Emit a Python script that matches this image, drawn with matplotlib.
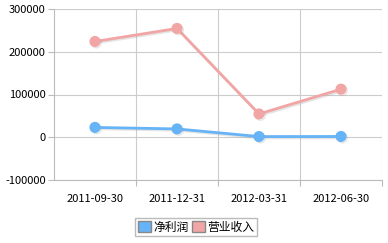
import matplotlib
matplotlib.use("Agg")
import matplotlib.pyplot as plt
import matplotlib.patheffects as pe
from matplotlib.patches import Patch

plt.rcParams['font.family'] = ['Noto Sans CJK SC', 'DejaVu Sans']

dates = ['2011-09-30', '2011-12-31', '2012-03-31', '2012-06-30']
net_profit = [23000, 19500, 1600, 1800]
revenue = [224000, 254500, 54500, 112500]
yticks = [-100000, 0, 100000, 200000, 300000]

blue = '#66b3f7'
pink = '#f2a5a5'

fig = plt.figure(figsize=(3.88, 2.43), dpi=100)
ax = fig.add_axes([54 / 388, 1 - 180 / 243, 328 / 388, 171 / 243])

x = range(len(dates))
shadow = [pe.SimpleLineShadow(offset=(1, -1), shadow_color='#999999', alpha=0.25), pe.Normal()]
ax.plot(x, revenue, color=pink, lw=2, marker='o', ms=7, path_effects=shadow, zorder=3)
ax.plot(x, net_profit, color=blue, lw=2, marker='o', ms=7, path_effects=shadow, zorder=4)

ax.set_xlim(-0.5, len(dates) - 0.5)
ax.set_ylim(-100000, 300000)
ax.set_yticks(yticks)
ax.set_yticklabels([str(v) for v in yticks], fontsize=8)
ax.set_xticks([i + 0.5 for i in range(len(dates))], minor=False)
ax.set_xticklabels([])
ax.set_xticks(list(x), minor=True)
ax.set_xticklabels(dates, minor=True, fontsize=8)
ax.tick_params(axis='x', which='minor', length=0, pad=10)
ax.tick_params(axis='x', which='major', length=4, color='#bbbbbb')
ax.tick_params(axis='y', length=4, color='#bbbbbb', pad=2)

ax.grid(True, which='major', color='#cccccc', lw=0.8)
for s in ['top', 'right']:
    ax.spines[s].set_visible(False)
for s in ['left', 'bottom']:
    ax.spines[s].set_color('#bbbbbb')

handles = [Patch(facecolor=blue, edgecolor='#888888', label='净利润'),
           Patch(facecolor=pink, edgecolor='#888888', label='营业收入')]
fig.legend(handles=handles, loc='center', bbox_to_anchor=(196 / 388, 1 - 227 / 243),
           ncol=2, fontsize=8.5, frameon=True, fancybox=False, edgecolor='#aaaaaa',
           handlelength=1.1, handleheight=1.1, handletextpad=0.2, columnspacing=0.3,
           borderpad=0.2, borderaxespad=0)

fig.savefig('out.png', dpi=100)
